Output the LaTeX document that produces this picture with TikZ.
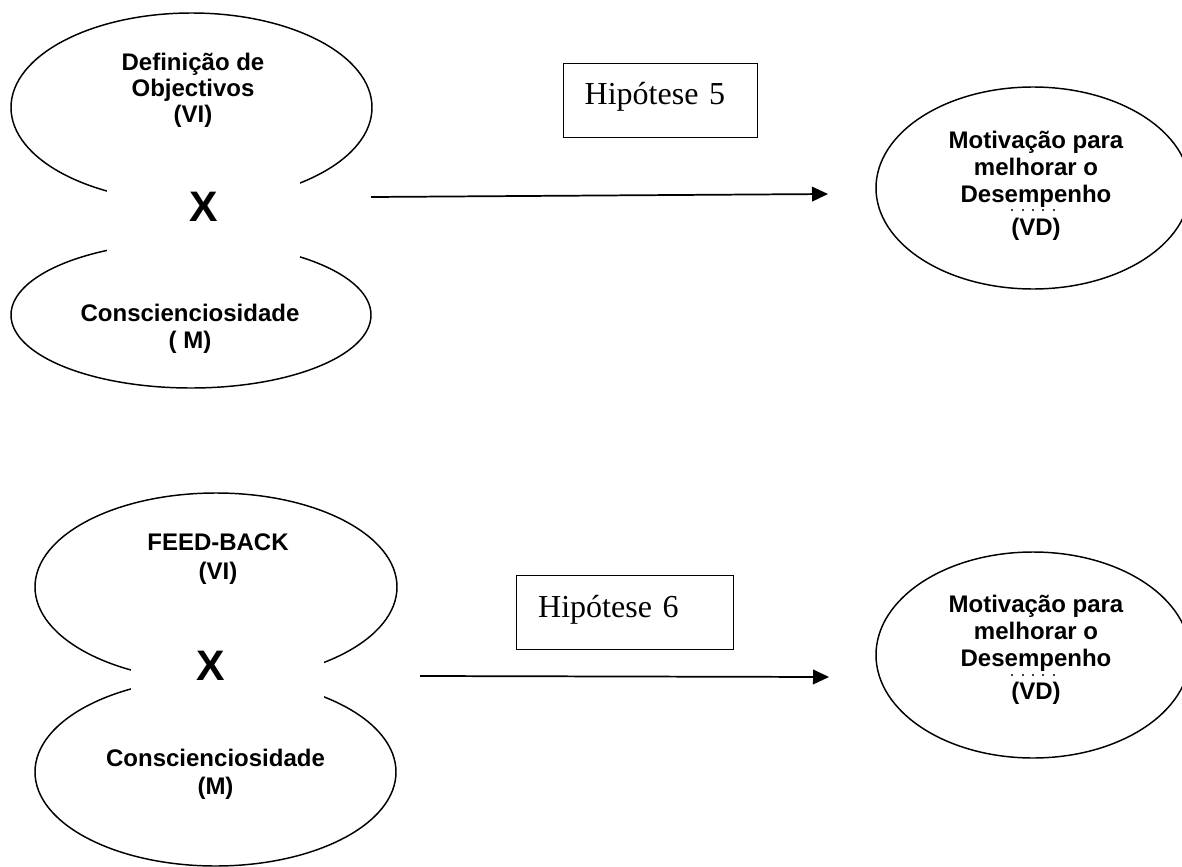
\documentclass[tikz,border=0pt]{standalone}
\usepackage{fontspec}
\setmainfont{Liberation Serif}
\setsansfont{Liberation Sans}
\usetikzlibrary{shapes.geometric,arrows.meta}
\newcommand{\mlines}[1]{\begin{tabular}[t]{@{}c@{}}#1\end{tabular}}
\begin{document}
\begin{tikzpicture}[x=0.75pt,y=-0.75pt,
  ell/.style={draw,ellipse,line width=1.1pt,inner sep=0pt},
  lbl/.style={anchor=base,inner sep=0pt,font=\sffamily\bfseries\fontsize{18pt}{#1}\selectfont},
  lbl/.default=20.25pt,
  xmark/.style={inner sep=0pt,font=\sffamily\bfseries\fontsize{32pt}{38pt}\selectfont},
  hyp/.style={draw,line width=1.1pt,anchor=north west,align=left,inner xsep=15.75pt,inner ysep=0pt,
    font=\rmfamily\fontsize{24pt}{28pt}\selectfont},
  arr/.style={line width=1.3pt,-{Triangle[length=12pt,width=11pt]}},
  dot/.style={fill=black}]
\useasboundingbox (0,0) rectangle (1182,867);
\clip (0,0) rectangle (1182,867);

% ---------- group 1 ----------
\node[ell,minimum width=270.75pt,minimum height=141.75pt] (e1a) at (191.5,107.5) {};
\node[ell,minimum width=270pt,minimum height=109.5pt] (e1b) at (191,315) {};
\fill[white] (107,178) rectangle (300,266);
\node[xmark] (x1) at (204,207) {X};
\node[lbl=19.5pt] (t1a) at (193,71) {\mlines{Definição de\\Objectivos\\(VI)}};
\node[lbl] (t1b) at (190,321) {\mlines{Conscienciosidade\\( M)}};

\node[hyp,minimum width=145.5pt,minimum height=55.5pt,text width=114pt,text height=30.75pt,text depth=24.75pt] (h5) at (563,63) {Hipótese 5};

\coordinate (a1s) at (371,197);
\coordinate (a1e) at (828,194);
\draw[arr] (a1s) -- (a1e);

\node[ell,minimum width=235.5pt,minimum height=151.5pt] (r1) at (1033,188) {};
\node[lbl] (tr1) at (1036,148) {\mlines{Motivação para\\melhorar o\\Desempenho\\[4.5pt](VD)}};
\foreach \xx in {1012,1023,1033,1043,1054} \fill[dot] (\xx,210) circle (0.85pt);

% ---------- group 2 ----------
\node[ell,minimum width=271.5pt,minimum height=141pt] (e2a) at (216,587) {};
\node[ell,minimum width=270.75pt,minimum height=141pt] (e2b) at (215.5,772) {};
\fill[white] (131,655) rectangle (324,705);
\node[xmark] (x2) at (211,666) {X};
\node[lbl=21.75pt] (t2a) at (218,550) {\mlines{FEED-BACK\\(VI)}};
\node[lbl=21pt] (t2b) at (215.5,766) {\mlines{Conscienciosidade\\(M)}};

\node[hyp,minimum width=162.75pt,minimum height=55.5pt,text width=130.5pt,text height=31.5pt,text depth=24pt] (h6) at (516,575) {Hipótese 6};

\coordinate (a2s) at (420,676);
\coordinate (a2e) at (829,677);
\draw[arr] (a2s) -- (a2e);

\node[ell,minimum width=235.5pt,minimum height=154.5pt] (r2) at (1033,655) {};
\node[lbl] (tr2) at (1036,612) {\mlines{Motivação para\\melhorar o\\Desempenho\\[4.5pt](VD)}};
\foreach \xx in {1012,1023,1033,1043,1054} \fill[dot] (\xx,675) circle (0.85pt);
\end{tikzpicture}
\end{document}
